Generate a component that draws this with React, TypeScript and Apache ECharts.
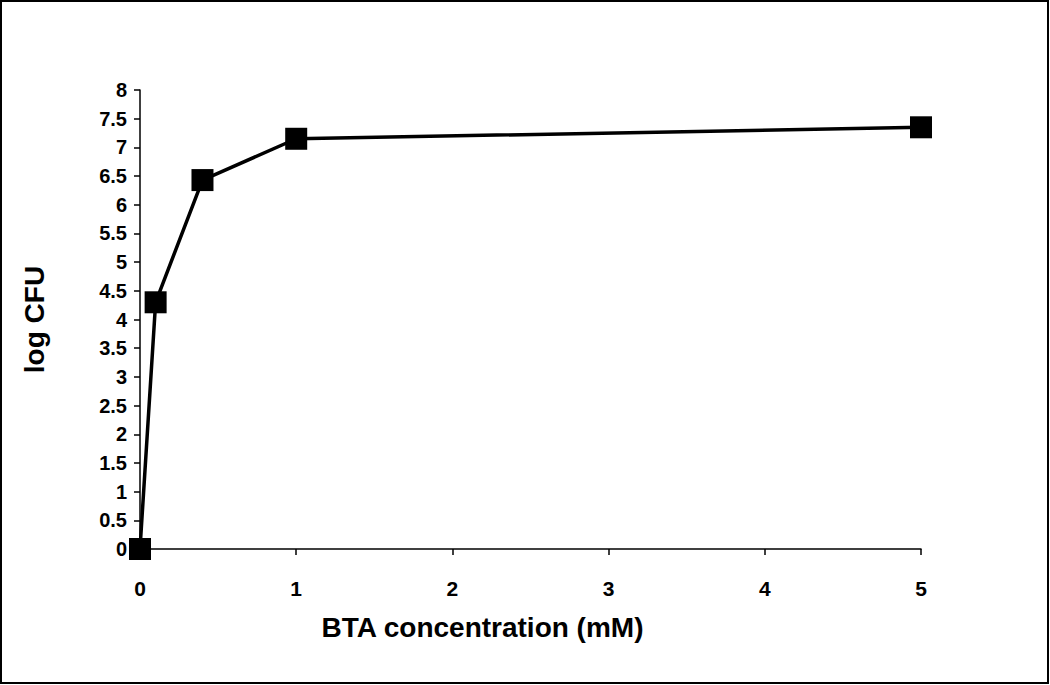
import React, { useEffect, useRef } from "react";
import * as echarts from "echarts";

const concentrations = [0, 0.1, 0.4, 1, 5];
const logCFU = [0, 4.3, 6.43, 7.15, 7.35];
const xTitle = "BTA concentration (mM)";
const yTitle = "log CFU";

export default function App() {
  const ref = useRef<HTMLDivElement>(null);
  useEffect(() => {
    document.body.style.margin = "0";
    const chart = echarts.init(ref.current!, null, { renderer: "svg" });
    const font = "'Liberation Sans', Arial, sans-serif";
    chart.setOption({
      animation: false,
      backgroundColor: "#ffffff",
      graphic: [
        {
          type: "rect",
          shape: { x: 1, y: 1, width: 1047, height: 682 },
          style: { fill: "none", stroke: "#000", lineWidth: 2 },
        },
      ],
      grid: { left: 140, right: 129, top: 90, bottom: 136 },
      xAxis: {
        type: "value",
        min: 0,
        max: 5,
        interval: 1,
        name: xTitle,
        nameLocation: "middle",
        nameGap: 64,
        nameTextStyle: {
          fontFamily: font,
          fontSize: 28,
          fontWeight: "bold",
          color: "#000",
          padding: [0, 96, 0, 0],
        },
        axisLine: { lineStyle: { color: "#000", width: 1.5 } },
        axisTick: { show: true, length: 6, lineStyle: { color: "#000", width: 1.5 } },
        axisLabel: { margin: 29, fontFamily: font, fontSize: 21, fontWeight: "bold", color: "#000" },
        splitLine: { show: false },
      },
      yAxis: {
        type: "value",
        min: 0,
        max: 8,
        interval: 0.5,
        name: yTitle,
        nameLocation: "middle",
        nameGap: 92,
        nameTextStyle: { fontFamily: font, fontSize: 28, fontWeight: "bold", color: "#000" },
        axisLine: { show: true, lineStyle: { color: "#000", width: 1.5 } },
        axisTick: { show: true, length: 6, lineStyle: { color: "#000", width: 1.5 } },
        axisLabel: { margin: 13, fontFamily: font, fontSize: 20, fontWeight: "bold", color: "#000" },
        splitLine: { show: false },
      },
      series: [
        {
          type: "line",
          data: concentrations.map((c, i) => [c, logCFU[i]]),
          symbol: "rect",
          symbolSize: 22,
          lineStyle: { color: "#000", width: 3.5 },
          itemStyle: { color: "#000" },
        },
      ],
    });
    return () => chart.dispose();
  }, []);
  return <div ref={ref} style={{ width: 1050, height: 685 }} />;
}
